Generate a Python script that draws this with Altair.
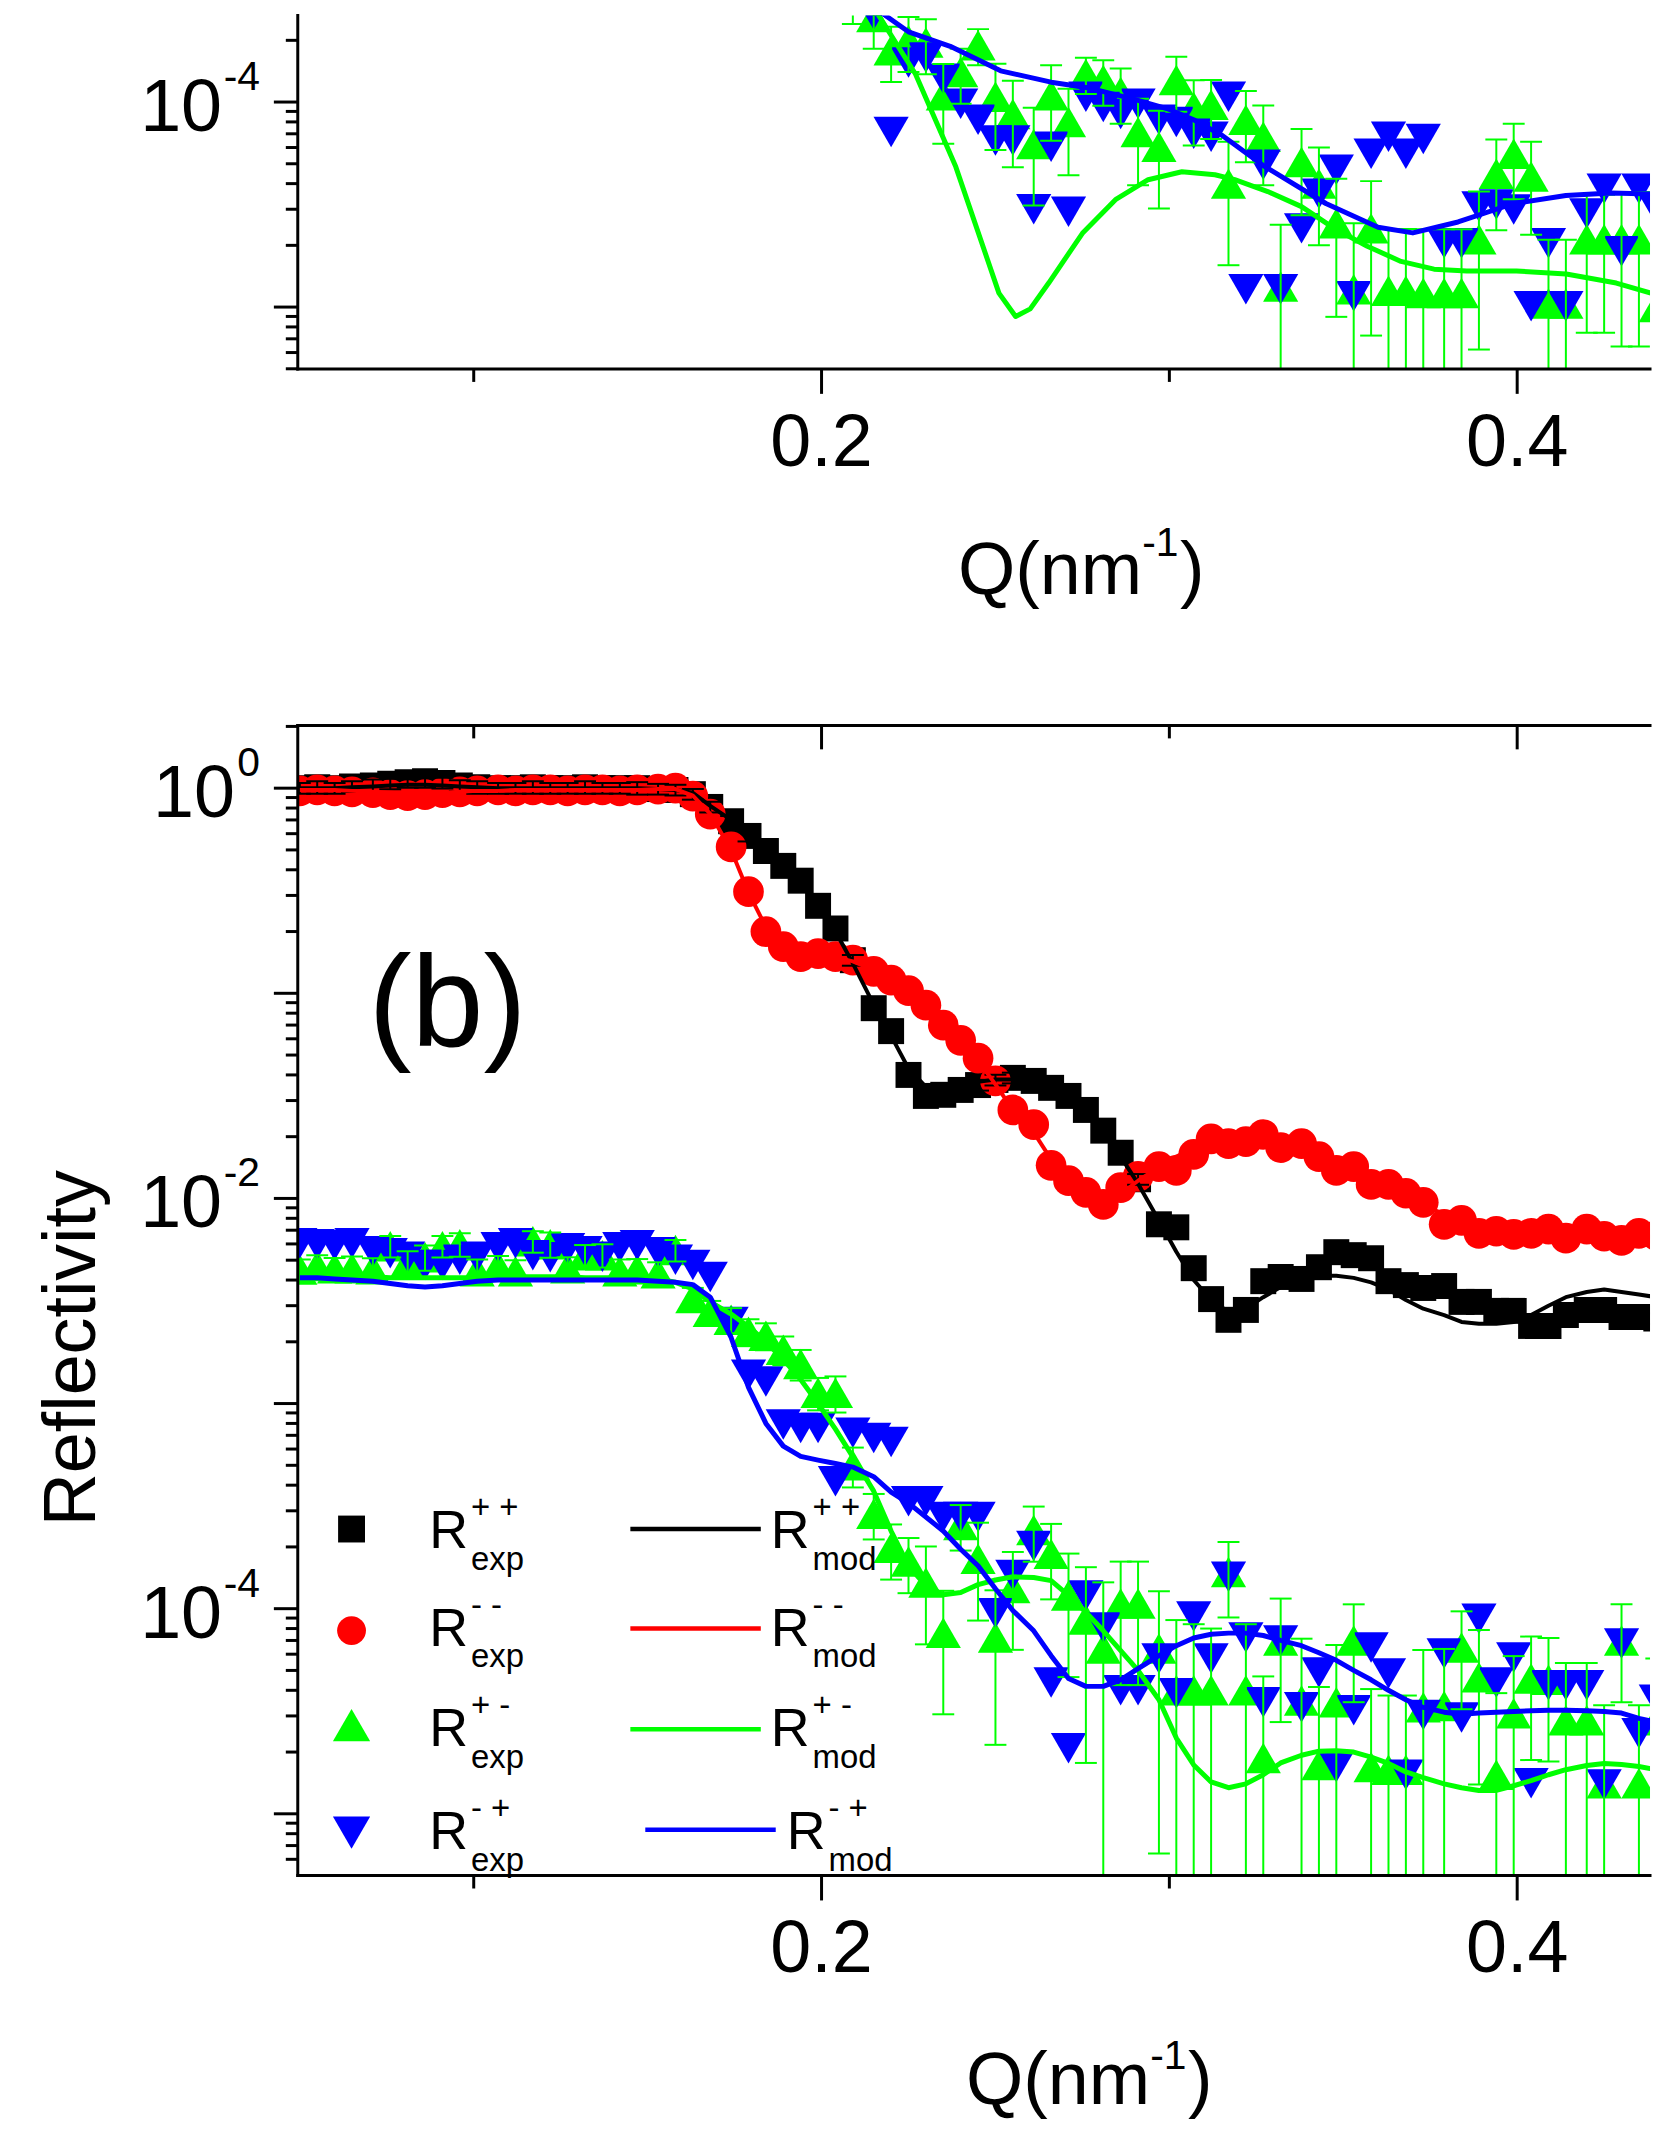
import altair as alt
import pandas as pd

FONT = "Liberation Sans"
BLACK, RED, GREEN, BLUE = "#000000", "#ff0000", "#00ff00", "#0000ff"

# ------------------------------------------------------------------ data
Q = [0.050, 0.055, 0.060, 0.065, 0.071, 0.076, 0.081, 0.086, 0.091, 0.096,
     0.101, 0.107, 0.112, 0.117, 0.122, 0.127, 0.132, 0.137, 0.142, 0.147,
     0.153, 0.158, 0.163, 0.168, 0.174, 0.179, 0.184, 0.189, 0.194, 0.199,
     0.204, 0.209, 0.215, 0.220, 0.225, 0.230, 0.235, 0.240, 0.245, 0.250,
     0.255, 0.261, 0.266, 0.271, 0.276, 0.281, 0.286, 0.291, 0.297, 0.302,
     0.307, 0.312, 0.317, 0.322, 0.327, 0.332, 0.338, 0.343, 0.348, 0.353,
     0.358, 0.363, 0.368, 0.373, 0.379, 0.384, 0.389, 0.394, 0.399, 0.404,
     0.409, 0.414, 0.420, 0.425, 0.430, 0.435, 0.440]

# panel (b) : R++ experimental (black squares)
B_PP = [1.00, 1.01, 1.00, 1.02, 1.03, 1.05, 1.07, 1.08, 1.06, 1.03,
        1.01, 1.00, 1.00, 1.01, 1.00, 1.00, 1.01, 1.00, 1.00, 1.00,
        0.99, 0.98, 0.935, 0.81, 0.69, 0.585, 0.494, 0.418, 0.354, 0.267,
        0.207, 0.145, 0.0846, 0.0654, 0.040, 0.0316, 0.032, 0.0338, 0.0357, 0.0378,
        0.0387, 0.0374, 0.0346, 0.0316, 0.027, 0.0214, 0.0167, 0.0124, 0.00748, 0.00723,
        0.00457, 0.00323, 0.00256, 0.00286, 0.00395, 0.00414, 0.00405, 0.00462, 0.00547, 0.00529,
        0.00511, 0.00395, 0.00378, 0.00366, 0.00374, 0.00313, 0.00313, 0.00283, 0.00283, 0.00239,
        0.00239, 0.0027, 0.00286, 0.00286, 0.00264, 0.00264, 0.0026]
B_PP_ERR = [0.06, 0.07, 0.06, 0.06, 0.07, 0.06, 0.06, 0.07, 0.06, 0.06,
            0.07, 0.06, 0.06, 0.07, 0.06, 0.06, 0.07, 0.06, 0.06, 0.07,
            0.06, 0.06, 0.06, 0.06, 0.06, 0.06, 0.06, 0.06, 0.06, 0.06,
            0.06, 0.06, 0.06, 0.06, 0.06, 0.06, 0.06, 0.06, 0.06, 0.06,
            0.06, 0.06, 0.06, 0.06, 0.06, 0.06, 0.06, 0.06, 0.06, 0.06,
            0.06, 0.06, 0.06, 0.06, 0.06, 0.06, 0.06, 0.06, 0.06, 0.06,
            0.06, 0.06, 0.06, 0.06, 0.06, 0.06, 0.06, 0.06, 0.06, 0.06,
            0.06, 0.06, 0.06, 0.06, 0.06, 0.06, 0.06]
# R-- experimental (red circles)
B_MM = [0.97, 0.98, 0.97, 0.96, 0.95, 0.93, 0.92, 0.93, 0.95, 0.96,
        0.97, 0.98, 0.97, 0.98, 0.98, 0.97, 0.98, 0.98, 0.97, 0.98,
        0.99, 1.00, 0.915, 0.748, 0.517, 0.313, 0.20, 0.169, 0.151, 0.156,
        0.151, 0.145, 0.128, 0.116, 0.103, 0.0875, 0.070, 0.059, 0.0483, 0.0374,
        0.027, 0.0229, 0.0145, 0.0122, 0.0107, 0.00935, 0.0113, 0.0128, 0.0143, 0.0137,
        0.0164, 0.0195, 0.0185, 0.0189, 0.0205, 0.0177, 0.0185, 0.016, 0.0137, 0.0143,
        0.0117, 0.0117, 0.0106, 0.00957, 0.00748, 0.00782, 0.00676, 0.00692, 0.00668, 0.00676,
        0.00708, 0.0064, 0.00708, 0.00654, 0.00625, 0.00676, 0.0066]
# R+- experimental (green up triangles) and relative errors
B_PM = [4.5e-3, 4.68e-3, 4.57e-3, 4.57e-3, 4.52e-3, 5.85e-3, 4.89e-3, 5.17e-3, 5.85e-3, 5.98e-3,
        4.42e-3, 4.68e-3, 4.42e-3, 6.18e-3, 5.98e-3, 4.57e-3, 5.29e-3, 5.29e-3, 4.42e-3, 4.52e-3,
        4.32e-3, 5.6e-3, 3.27e-3, 2.8e-3, 2.56e-3, 2.24e-3, 2.14e-3, 1.83e-3, 1.56e-3, 1.13e-3,
        1.13e-3, 5.0e-4, 2.9e-4, 1.98e-4, 1.7e-4, 1.34e-4, 7.64e-5, 2.56e-4, 1.75e-4, 7.23e-5,
        1.26e-4, 2.42e-4, 1.85e-4, 1.16e-4, 8.85e-5, 6.4e-5, 1.06e-4, 1.06e-4, 6.4e-5, 4.0e-5,
        4.0e-5, 4.0e-5, 1.51e-4, 4.0e-5, 1.87e-5, 7.0e-5, 3.57e-5, 1.73e-5, 3.5e-5, 7.0e-5,
        1.69e-5, 1.64e-5, 1.64e-5, 3.31e-5, 3.35e-5, 6.47e-5, 4.63e-5, 1.55e-5, 3.09e-5, 4.57e-5,
        4.5e-5, 2.86e-5, 2.86e-5, 1.41e-5, 7.0e-5, 1.41e-5, 2.86e-5]
B_PM_ERR = [0.12, 0.13, 0.12, 0.14, 0.13, 0.12, 0.13, 0.14, 0.12, 0.13,
            0.14, 0.12, 0.13, 0.12, 0.14, 0.13, 0.12, 0.13, 0.14, 0.12,
            0.13, 0.12, 0.12, 0.13, 0.14, 0.15, 0.15, 0.16, 0.17, 0.18,
            0.20, 0.22, 0.25, 0.30, 0.30, 0.50, 0.60, 0.25, 0.50, 0.70,
            0.50, 0.30, 0.40, 0.60, 0.80, 1.10, 0.60, 0.60, 0.90, 1.20,
            1.10, 1.00, 0.40, 1.10, 1.50, 0.60, 1.00, 1.40, 0.90, 0.50,
            1.40, 1.30, 1.30, 0.90, 0.90, 0.50, 0.70, 1.50, 0.90, 0.60,
            0.60, 0.90, 0.90, 1.40, 0.50, 1.40, 1.00]
# R-+ experimental (blue down triangles)
B_MP = [6.05e-3, 5.98e-3, 5.91e-3, 6.05e-3, 5.53e-3, 5.4e-3, 5.2e-3, 4.74e-3, 4.74e-3, 5.03e-3,
        5.2e-3, 5.78e-3, 6.05e-3, 5.28e-3, 5.17e-3, 5.72e-3, 5.53e-3, 5.2e-3, 5.78e-3, 5.91e-3,
        5.47e-3, 5.03e-3, 4.74e-3, 4.14e-3, 2.5e-3, 1.38e-3, 1.28e-3, 7.9e-4, 7.6e-4, 7.6e-4,
        4.18e-4, 7.2e-4, 6.8e-4, 6.5e-4, 3.34e-4, 3.34e-4, 2.8e-4, 2.8e-4, 2.8e-4, 9.5e-5,
        1.46e-4, 2.02e-4, 4.37e-5, 2.09e-5, 1.16e-4, 8.09e-5, 4.0e-5, 4.0e-5, 5.71e-5, 3.87e-5,
        9.15e-5, 5.71e-5, 1.43e-4, 7.23e-5, 3.5e-5, 7.0e-5, 3.31e-5, 4.89e-5, 1.69e-5, 3.2e-5,
        6.47e-5, 4.83e-5, 1.55e-5, 3.03e-5, 6.05e-5, 2.95e-5, 8.94e-5, 4.37e-5, 5.78e-5, 1.41e-5,
        4.23e-5, 4.23e-5, 4.23e-5, 1.39e-5, 6.76e-5, 2.47e-5, 3.6e-5]
# panel (b) model curves on the same Q grid
B_PP_MOD = [1.00, 1.00, 1.00, 1.01, 1.02, 1.03, 1.04, 1.04, 1.03, 1.02,
            1.01, 1.00, 1.00, 1.00, 1.00, 1.00, 1.00, 1.00, 1.00, 1.00,
            0.99, 0.98, 0.95, 0.82, 0.70, 0.59, 0.50, 0.42, 0.35, 0.27,
            0.20, 0.14, 0.088, 0.062, 0.043, 0.035, 0.034, 0.035, 0.037, 0.038,
            0.038, 0.037, 0.035, 0.032, 0.027, 0.021, 0.016, 0.0118, 0.0078, 0.0055,
            0.0040, 0.0032, 0.0028, 0.0029, 0.0033, 0.0037, 0.0040, 0.0042, 0.0042, 0.0041,
            0.0039, 0.0036, 0.0032, 0.0029, 0.0027, 0.0025, 0.00245, 0.00245, 0.0025, 0.0027,
            0.0030, 0.0033, 0.0035, 0.0036, 0.0035, 0.0034, 0.0033]
B_MM_MOD = [0.98, 0.98, 0.98, 0.97, 0.96, 0.95, 0.94, 0.94, 0.95, 0.96,
            0.97, 0.97, 0.98, 0.98, 0.98, 0.98, 0.98, 0.98, 0.98, 0.98,
            0.99, 0.99, 0.92, 0.75, 0.50, 0.31, 0.21, 0.17, 0.155, 0.153,
            0.150, 0.143, 0.130, 0.115, 0.101, 0.086, 0.070, 0.058, 0.047, 0.036,
            0.027, 0.021, 0.0155, 0.0122, 0.0105, 0.0098, 0.0105, 0.0122, 0.0142, 0.0160,
            0.0175, 0.0186, 0.0191, 0.0192, 0.0189, 0.0182, 0.0172, 0.0160, 0.0147, 0.0135,
            0.0122, 0.0111, 0.0101, 0.0092, 0.0084, 0.0078, 0.0073, 0.0070, 0.0068, 0.0067,
            0.0067, 0.0067, 0.0067, 0.0066, 0.0065, 0.0065, 0.0065]
B_PM_MOD = [4.3e-3, 4.3e-3, 4.25e-3, 4.2e-3, 4.15e-3, 4.1e-3, 4.1e-3, 4.1e-3, 4.1e-3, 4.1e-3,
            4.1e-3, 4.15e-3, 4.15e-3, 4.15e-3, 4.15e-3, 4.15e-3, 4.1e-3, 4.1e-3, 4.1e-3, 4.1e-3,
            4.05e-3, 3.9e-3, 3.62e-3, 3.13e-3, 2.73e-3, 2.37e-3, 2.0e-3, 1.64e-3, 1.31e-3, 1.0e-3,
            7.5e-4, 5.5e-4, 3.74e-4, 2.39e-4, 1.62e-4, 1.29e-4, 1.17e-4, 1.2e-4, 1.31e-4, 1.38e-4,
            1.43e-4, 1.42e-4, 1.37e-4, 1.16e-4, 9.6e-5, 7.8e-5, 6.25e-5, 5.0e-5, 3.6e-5, 2.34e-5,
            1.73e-5, 1.43e-5, 1.34e-5, 1.40e-5, 1.55e-5, 1.77e-5, 1.93e-5, 2.02e-5, 2.03e-5, 2.0e-5,
            1.89e-5, 1.76e-5, 1.6e-5, 1.5e-5, 1.4e-5, 1.34e-5, 1.3e-5, 1.3e-5, 1.37e-5, 1.45e-5,
            1.55e-5, 1.64e-5, 1.72e-5, 1.76e-5, 1.74e-5, 1.7e-5, 1.64e-5]
B_MP_MOD = [4.1e-3, 4.1e-3, 4.05e-3, 4.0e-3, 3.95e-3, 3.85e-3, 3.75e-3, 3.7e-3, 3.75e-3, 3.85e-3,
            3.95e-3, 4.0e-3, 4.0e-3, 4.0e-3, 4.0e-3, 4.0e-3, 4.0e-3, 4.0e-3, 4.0e-3, 4.0e-3,
            3.95e-3, 3.9e-3, 3.8e-3, 3.3e-3, 2.1e-3, 1.2e-3, 8.0e-4, 6.2e-4, 5.53e-4, 5.3e-4,
            5.1e-4, 4.9e-4, 4.4e-4, 3.7e-4, 3.27e-4, 2.8e-4, 2.39e-4, 1.95e-4, 1.62e-4, 1.25e-4,
            9.8e-5, 7.8e-5, 5.9e-5, 4.57e-5, 4.18e-5, 4.18e-5, 4.5e-5, 5.1e-5, 5.9e-5, 6.6e-5,
            7.2e-5, 7.5e-5, 7.6e-5, 7.6e-5, 7.4e-5, 7.0e-5, 6.6e-5, 6.1e-5, 5.6e-5, 5.0e-5,
            4.5e-5, 4.0e-5, 3.6e-5, 3.3e-5, 3.13e-5, 3.06e-5, 3.1e-5, 3.13e-5, 3.15e-5, 3.18e-5,
            3.2e-5, 3.2e-5, 3.18e-5, 3.15e-5, 3.1e-5, 2.92e-5, 2.8e-5]

# panel (a): only the lower part is visible; points start at Q[30]
A_START = 30
A_PM = [4.0e-4, 3.2e-4, 2.6e-4, 1.79e-4, 2.0e-4, 1.95e-4, 1.08e-4, 1.4e-4, 1.89e-4, 1.06e-4,
        8.75e-5, 6.25e-5, 1.08e-4, 8.0e-5, 1.37e-4, 1.28e-4, 1.12e-4, 7.15e-5, 6.05e-5, 1.28e-4,
        9.45e-5, 9.7e-5, 4.0e-5, 8.2e-5, 6.77e-5, 1.26e-5, 5.1e-5, 4.0e-5, 2.56e-5, 1.22e-5,
        2.42e-5, 1.2e-5, 1.2e-5, 1.17e-5, 1.17e-5, 1.17e-5, 2.14e-5, 4.47e-5, 5.6e-5, 4.33e-5,
        1.04e-5, 1.04e-5, 2.14e-5, 2.14e-5, 2.14e-5, 2.14e-5, 1.0e-5]
A_PM_ERR = [0.20, 0.25, 0.30, 0.30, 0.30, 0.30, 0.42, 0.30, 0.20, 0.45,
            0.45, 0.50, 0.40, 0.45, 0.20, 0.25, 0.30, 0.45, 0.50, 0.30,
            0.35, 0.32, 0.60, 0.38, 0.42, 1.00, 0.45, 0.50, 0.65, 1.10,
            0.70, 1.00, 1.00, 1.05, 1.05, 1.05, 0.71, 0.47, 0.40, 0.48,
            1.05, 1.05, 0.65, 0.65, 0.70, 0.70, 1.00]
A_MP = [4.5e-4, 3.5e-4, 2.67e-4, 7.15e-5, 1.56e-4, 1.65e-4, 1.3e-4, 9.8e-5, 8.2e-5, 6.5e-5,
        6.5e-5, 3.0e-5, 6.05e-5, 2.92e-5, 1.06e-4, 9.45e-5, 8.75e-5, 9.8e-5, 8.2e-5, 8.0e-5,
        7.0e-5, 6.77e-5, 1.06e-4, 1.22e-5, 4.94e-5, 1.22e-5, 2.42e-5, 3.57e-5, 4.68e-5, 1.13e-5,
        5.6e-5, 6.77e-5, 5.6e-5, 6.6e-5, 2.05e-5, 2.05e-5, 3.09e-5, 3.16e-5, 2.99e-5, 1.01e-5,
        2.05e-5, 1.01e-5, 2.86e-5, 3.78e-5, 1.87e-5, 3.78e-5, 2.99e-5]
A_PM_MOD_Q = [0.205, 0.215, 0.227, 0.2386, 0.251, 0.2558, 0.260, 0.2653, 0.275, 0.2845,
              0.2939, 0.3036, 0.3131, 0.3188, 0.3283, 0.338, 0.3474, 0.3569, 0.3666, 0.3761,
              0.3855, 0.3998, 0.4141, 0.4285, 0.440]
A_PM_MOD = [6.0e-4, 2.89e-4, 1.37e-4, 4.83e-5, 1.17e-5, 9.0e-6, 9.8e-6, 1.31e-5, 2.29e-5, 3.34e-5,
            4.18e-5, 4.57e-5, 4.42e-5, 4.18e-5, 3.66e-5, 3.09e-5, 2.42e-5, 1.98e-5, 1.67e-5, 1.53e-5,
            1.5e-5, 1.5e-5, 1.45e-5, 1.31e-5, 1.15e-5]
A_MP_MOD_Q = [0.205, 0.215, 0.225, 0.237, 0.2515, 0.266, 0.277, 0.290, 0.300, 0.307,
              0.315, 0.327, 0.345, 0.360, 0.370, 0.383, 0.399, 0.414, 0.427, 0.440]
A_MP_MOD = [4.2e-4, 2.9e-4, 2.2e-4, 1.87e-4, 1.42e-4, 1.25e-4, 1.17e-4, 1.03e-4, 9.2e-5, 8.2e-5,
            6.9e-5, 4.9e-5, 3.2e-5, 2.45e-5, 2.3e-5, 2.6e-5, 3.2e-5, 3.5e-5, 3.6e-5, 3.55e-5]

# axes / labels
X_MAJOR = [0.2, 0.4]
X_MAJOR_LABELS = ["0.2", "0.4"]
X_MINOR = [0.1, 0.3]
YB_LABEL_VALUES = [1.0, 1e-2, 1e-4]
YB_LABEL_EXP = ["0", "-2", "-4"]
YA_LABEL_VALUES = [1e-4]
YA_LABEL_EXP = ["-4"]
Y_TITLE = "Reflectivity"
LEGEND_SUP = ["+ +", "- -", "+ -", "- +"]
LEGEND_COLORS = [BLACK, RED, GREEN, BLUE]
LEGEND_SHAPES = ["square", "circle", "triangle-up", "triangle-down"]

# ------------------------------------------------------------------ layout
W = 1358
H_A = 355
H_B = 1155
X_DOMAIN = [0.04941, 0.43819]
YA_DOMAIN = [4.99e-6, 2.644e-4]
YB_DOMAIN = [5.0e-6, 2.022]

XS = alt.Scale(domain=X_DOMAIN, nice=False, zero=False)
YA = alt.Scale(type="log", domain=YA_DOMAIN, nice=False)
YB = alt.Scale(type="log", domain=YB_DOMAIN, nice=False)

SZ_SQ, SZ_CI, SZ_TR = 680, 950, 1250


def decades(lo, hi):
    return [10.0 ** k for k in range(-8, 2) if lo <= 10.0 ** k <= hi]


def minors(lo, hi):
    return [m * 10.0 ** k for k in range(-8, 2) for m in range(2, 10)
            if lo <= m * 10.0 ** k <= hi]


def XF(field):
    return alt.X(field, scale=XS, axis=None)


def YF(field, ys):
    return alt.Y(field, scale=ys, axis=None)


def points(df, field, shape, color, size, ys):
    return alt.Chart(df).mark_point(
        shape=shape, filled=True, size=size, color=color, opacity=1,
        strokeWidth=0, clip=True).encode(x=XF("Q:Q"), y=YF(f"{field}:Q", ys))


def model(df, field, color, width, ys):
    return alt.Chart(df).mark_line(
        color=color, strokeWidth=width, clip=True, strokeJoin="round").encode(
        x=XF("Q:Q"), y=YF(f"{field}:Q", ys))


def errbars(q, v, r, color, ys, cap=22, width=2):
    lo = [vi * (1 - ri) if ri < 1 else 1e-9 for vi, ri in zip(v, r)]
    hi = [vi * (1 + ri) for vi, ri in zip(v, r)]
    df = pd.DataFrame({"Q": q, "lo": lo, "hi": hi})
    base = alt.Chart(df)
    out = [base.mark_rule(color=color, strokeWidth=width, clip=True).encode(
        x=XF("Q:Q"), y=YF("lo:Q", ys), y2="hi:Q")]
    for f in ("lo", "hi"):
        out.append(base.mark_tick(orient="horizontal", size=cap, thickness=width,
                                  color=color, opacity=1, clip=True).encode(
            x=XF("Q:Q"), y=YF(f"{f}:Q", ys)))
    return out


def one():
    return pd.DataFrame({"a": [0]})


def frame(H, ys, dom, top):
    """Axis lines, ticks and tick labels drawn as marks."""
    out = []
    rule = dict(color=BLACK, strokeWidth=3, strokeCap="square")
    # axis lines
    out.append(alt.Chart(one()).mark_rule(**rule).encode(
        x=alt.value(0), y=alt.value(0), y2=alt.value(H)))
    out.append(alt.Chart(one()).mark_rule(**rule).encode(
        x=alt.value(0), x2=alt.value(W), y=alt.value(H)))
    # y ticks
    out.append(alt.Chart(pd.DataFrame({"v": decades(*dom)})).mark_rule(
        color=BLACK, strokeWidth=3).encode(
        x=alt.value(0), x2=alt.value(-24), y=YF("v:Q", ys)))
    out.append(alt.Chart(pd.DataFrame({"v": minors(*dom)})).mark_rule(
        color=BLACK, strokeWidth=3).encode(
        x=alt.value(0), x2=alt.value(-12), y=YF("v:Q", ys)))
    # x ticks
    out.append(alt.Chart(pd.DataFrame({"q": X_MAJOR})).mark_rule(
        color=BLACK, strokeWidth=3).encode(
        x=XF("q:Q"), y=alt.value(H), y2=alt.value(H + 25)))
    out.append(alt.Chart(pd.DataFrame({"q": X_MINOR})).mark_rule(
        color=BLACK, strokeWidth=3).encode(
        x=XF("q:Q"), y=alt.value(H), y2=alt.value(H + 13)))
    # x tick labels
    out.append(alt.Chart(pd.DataFrame({"q": X_MAJOR, "t": X_MAJOR_LABELS})).mark_text(
        font=FONT, fontSize=74, align="center", baseline="alphabetic", color=BLACK).encode(
        x=XF("q:Q"), y=alt.value(H + 97), text="t:N"))
    if top:
        out.append(alt.Chart(one()).mark_rule(**rule).encode(
            x=alt.value(0), x2=alt.value(W), y=alt.value(0)))
        out.append(alt.Chart(pd.DataFrame({"q": X_MAJOR})).mark_rule(
            color=BLACK, strokeWidth=3).encode(
            x=XF("q:Q"), y=alt.value(0), y2=alt.value(24)))
        out.append(alt.Chart(pd.DataFrame({"q": X_MINOR})).mark_rule(
            color=BLACK, strokeWidth=3).encode(
            x=XF("q:Q"), y=alt.value(0), y2=alt.value(13)))
    return out


def ylabels(vals, exps, ys):
    df = pd.DataFrame({"v": vals, "exp": exps})
    df["base"] = "10"
    out = []
    short = df[df["exp"].str.len() == 1]
    long_ = df[df["exp"].str.len() > 1]
    for sub, xb in ((short, -63), (long_, -76)):
        if len(sub):
            out.append(alt.Chart(sub).mark_text(
                font=FONT, fontSize=74, align="right", baseline="alphabetic",
                dy=29, color=BLACK).encode(
                x=alt.value(xb), y=YF("v:Q", ys), text="base:N"))
    out.append(alt.Chart(df).mark_text(
        font=FONT, fontSize=41, align="right", baseline="alphabetic",
        dy=-12, color=BLACK).encode(
        x=alt.value(-38), y=YF("v:Q", ys), text="exp:N"))
    return out


def xtitle(H, dx, base_dy, sup_dy):
    parts = [("Q(nm", 663 + dx, H + base_dy, 74), ("-1", 848 + dx, H + sup_dy, 41),
             (")", 886 + dx, H + base_dy, 74)]
    out = []
    for txt, x, y, fs in parts:
        out.append(alt.Chart(pd.DataFrame({"t": [txt]})).mark_text(
            font=FONT, fontSize=fs, align="left", baseline="alphabetic",
            color=BLACK).encode(x=alt.value(x), y=alt.value(y), text="t:N"))
    return out


# ------------------------------------------------------------------ panel (a)
qa = Q[A_START:]
df_a = pd.DataFrame({"Q": qa, "pm": A_PM, "mp": A_MP})
df_a_pm_mod = pd.DataFrame({"Q": A_PM_MOD_Q, "v": A_PM_MOD})
df_a_mp_mod = pd.DataFrame({"Q": A_MP_MOD_Q, "v": A_MP_MOD})

layers_a = [points(df_a, "pm", "triangle-up", GREEN, SZ_TR, YA),
            points(df_a, "mp", "triangle-down", BLUE, SZ_TR, YA)]
layers_a += errbars(qa, A_PM, A_PM_ERR, GREEN, YA)
layers_a += [model(df_a_pm_mod, "v", GREEN, 5, YA),
             model(df_a_mp_mod, "v", BLUE, 5, YA)]
layers_a += frame(H_A, YA, YA_DOMAIN, top=False)
layers_a += ylabels(YA_LABEL_VALUES, YA_LABEL_EXP, YA)
layers_a += xtitle(H_A, 0, 226, 188)
panel_a = alt.layer(*layers_a).properties(width=W, height=H_A)

# ------------------------------------------------------------------ panel (b)
df_b = pd.DataFrame({"Q": Q, "pp": B_PP, "mm": B_MM, "pm": B_PM, "mp": B_MP,
                     "pp_mod": B_PP_MOD, "mm_mod": B_MM_MOD,
                     "pm_mod": B_PM_MOD, "mp_mod": B_MP_MOD})

layers_b = [points(df_b, "pp", "square", BLACK, SZ_SQ, YB),
            points(df_b, "mm", "circle", RED, SZ_CI, YB),
            points(df_b, "pm", "triangle-up", GREEN, SZ_TR, YB),
            points(df_b, "mp", "triangle-down", BLUE, SZ_TR, YB)]
layers_b += errbars(Q, B_PP, B_PP_ERR, BLACK, YB)
layers_b += errbars(Q, B_PM, B_PM_ERR, GREEN, YB)
layers_b += [model(df_b, "pp_mod", BLACK, 4, YB),
             model(df_b, "mm_mod", RED, 4, YB),
             model(df_b, "pm_mod", GREEN, 5, YB),
             model(df_b, "mp_mod", BLUE, 5, YB)]
layers_b += frame(H_B, YB, YB_DOMAIN, top=True)
layers_b += ylabels(YB_LABEL_VALUES, YB_LABEL_EXP, YB)
layers_b += xtitle(H_B, 8, 229, 194)

# y-axis title
layers_b.append(alt.Chart(pd.DataFrame({"t": [Y_TITLE]})).mark_text(
    font=FONT, fontSize=74, align="center", baseline="alphabetic", angle=270,
    color=BLACK).encode(x=alt.value(-204), y=alt.value(625.5), text="t:N"))

# panel label
layers_b.append(alt.Chart(pd.DataFrame({"t": ["(b)"]})).mark_text(
    font=FONT, fontSize=130, align="left", baseline="alphabetic", color=BLACK).encode(
    x=alt.value(71), y=alt.value(322), text="t:N"))

# legend (layout in pixels inside the plot)
LEG_SYM_Y = [807, 909, 1004, 1112]
LEG_SYM_SIZE = [729, 841, 1400, 1400]
LEG_LX1 = [334, 334, 334, 349]
LEG_LY = [807, 907, 1008, 1109]
LEG_RY = [826, 924, 1025, 1128]
LEG_MX = [475, 475, 475, 491]
leg = pd.DataFrame({
    "shape": LEGEND_SHAPES, "color": LEGEND_COLORS, "sup": LEGEND_SUP,
    "size": LEG_SYM_SIZE, "sym_y": LEG_SYM_Y,
    "lx1": LEG_LX1, "lx2": [x + 131 for x in LEG_LX1], "ly": LEG_LY,
    "ry": LEG_RY, "sup_y": [y - 30 for y in LEG_RY], "sub_y": [y + 22 for y in LEG_RY],
    "mx": LEG_MX, "msx": [x + 42 for x in LEG_MX]})
leg["R"] = "R"
leg["exp"] = "exp"
leg["mod"] = "mod"


def PX(field):
    return alt.X(field, scale=None, axis=None)


def PY(field):
    return alt.Y(field, scale=None, axis=None)


lb = alt.Chart(leg)
layers_b.append(lb.mark_point(filled=True, opacity=1, strokeWidth=0).encode(
    x=alt.value(54), y=PY("sym_y:Q"),
    shape=alt.Shape("shape:N", scale=None, legend=None),
    color=alt.Color("color:N", scale=None, legend=None),
    size=alt.Size("size:Q", scale=None, legend=None)))
layers_b.append(lb.mark_rule(strokeWidth=4.5).encode(
    x=PX("lx1:Q"), x2="lx2:Q", y=PY("ly:Q"),
    color=alt.Color("color:N", scale=None, legend=None)))
txt = dict(font=FONT, align="left", baseline="alphabetic", color=BLACK)
layers_b.append(lb.mark_text(fontSize=54, **txt).encode(
    x=alt.value(132), y=PY("ry:Q"), text="R:N"))
layers_b.append(lb.mark_text(fontSize=33, **txt).encode(
    x=alt.value(174), y=PY("sup_y:Q"), text="sup:N"))
layers_b.append(lb.mark_text(fontSize=33, **txt).encode(
    x=alt.value(174), y=PY("sub_y:Q"), text="exp:N"))
layers_b.append(lb.mark_text(fontSize=54, **txt).encode(
    x=PX("mx:Q"), y=PY("ry:Q"), text="R:N"))
layers_b.append(lb.mark_text(fontSize=33, **txt).encode(
    x=PX("msx:Q"), y=PY("sup_y:Q"), text="sup:N"))
layers_b.append(lb.mark_text(fontSize=33, **txt).encode(
    x=PX("msx:Q"), y=PY("sub_y:Q"), text="mod:N"))

# invisible anchor fixing the left edge of the drawing
layers_b.append(alt.Chart(one()).mark_rule(opacity=0, strokeWidth=1).encode(
    x=alt.value(-290.5), x2=alt.value(-290.5), y=alt.value(0), y2=alt.value(2)))

panel_b = alt.layer(*layers_b).properties(width=W, height=H_B)

chart = alt.vconcat(panel_a, panel_b, spacing=358, bounds="flush").properties(
    padding={"left": 0, "top": 0, "right": 0, "bottom": 0},
    background="white"
).configure_view(stroke=None)

chart.save("out.html", embed_options={"renderer": "svg", "actions": False})
